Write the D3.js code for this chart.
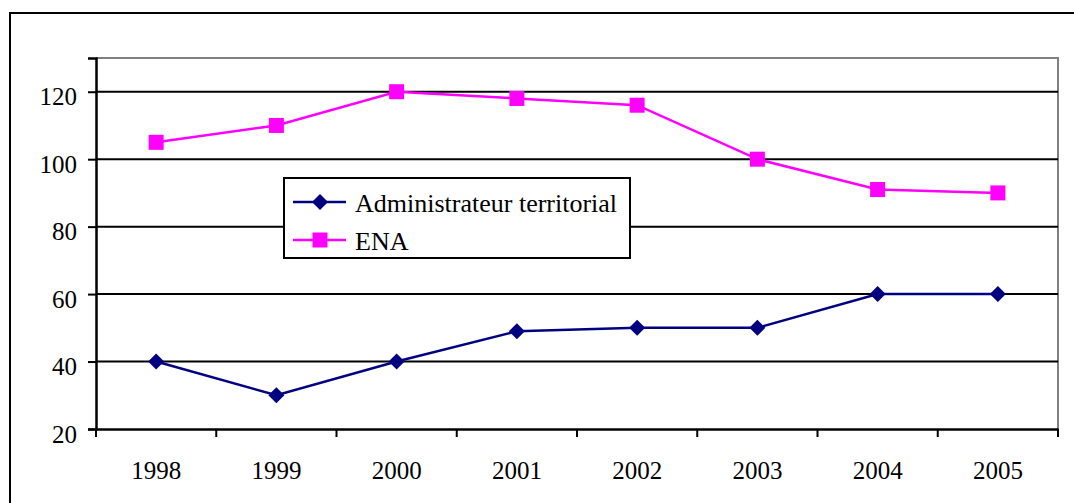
<!DOCTYPE html>
<html><head><meta charset="utf-8">
<script src="https://cdn.jsdelivr.net/npm/d3@7"></script>
<style>body{margin:0;background:#fff}svg{display:block}
text{font-family:"Liberation Serif","Times New Roman",serif}</style>
</head><body>
<svg id="c" width="1074" height="503"></svg>
<script>
const years = ["1998","1999","2000","2001","2002","2003","2004","2005"];
const adminValues = [40, 30, 40, 49, 50, 50, 60, 60];
const enaValues = [105, 110, 120, 118, 116, 100, 91, 90];
const yTicks = [20, 40, 60, 80, 100, 120];
const seriesNames = ["Administrateur territorial", "ENA"];
const seriesColors = ["#000080", "#FF00FF"];

const svg = d3.select("#c");
const font = "Liberation Serif";
const FS = 25;
const L = 96, R = 1058, T = 58, B = 429;

// outer frame
svg.append("rect").attr("x", 10).attr("y", 13).attr("width", 1080).attr("height", 520)
  .attr("fill", "none").attr("stroke", "#000").attr("stroke-width", 2);

const x = d3.scaleBand().domain(years).range([L, R]).padding(0);
const y = d3.scaleLinear().domain([20, 130]).range([B, T]);

// plot area border (gray)
svg.append("path").attr("d", `M${L},${T}H${R}V${B}`).attr("fill", "none")
  .attr("stroke", "#808080").attr("stroke-width", 2);

// gridlines
svg.append("g").selectAll("line").data(yTicks.filter(d => d > 20)).join("line")
  .attr("x1", L).attr("x2", R).attr("y1", d => y(d)).attr("y2", d => y(d))
  .attr("stroke", "#000").attr("stroke-width", 2);

// y axis
const yAxis = svg.append("g").attr("transform", `translate(${L},0)`)
  .call(d3.axisLeft(y).tickValues(yTicks).tickSize(8).tickPadding(11));
yAxis.attr("font-family", font).attr("font-size", FS);
yAxis.select(".domain").attr("stroke-width", 2.5);
yAxis.selectAll(".tick line").attr("stroke-width", 2);
yAxis.selectAll("text").style("font-family", font).style("font-size", FS + "px")
  .attr("fill", "#000").attr("y", 5);

// x axis
const xAxis = svg.append("g").attr("transform", `translate(0,${B})`)
  .call(d3.axisBottom(x).tickSize(0).tickPadding(32));
xAxis.attr("font-family", font).attr("font-size", FS);
xAxis.select(".domain").attr("stroke-width", 2.5);
xAxis.selectAll("text").style("font-family", font).style("font-size", FS + "px").attr("fill", "#000");
svg.append("g").selectAll("line").data(years.map(d => x(d)).concat([R])).join("line")
  .attr("x1", d => d).attr("x2", d => d).attr("y1", B).attr("y2", B + 8)
  .attr("stroke", "#000").attr("stroke-width", 2);

const cx = d => x(d) + x.bandwidth() / 2;
const line = d3.line().x((d, i) => cx(years[i])).y(d => y(d));

// series
const allSeries = [adminValues, enaValues];
allSeries.forEach((vals, si) => {
  svg.append("path").datum(vals).attr("d", line).attr("fill", "none")
    .attr("stroke", seriesColors[si]).attr("stroke-width", 2.5);
});
svg.append("g").selectAll("path").data(adminValues).join("path")
  .attr("transform", (d, i) => `translate(${cx(years[i])},${y(d)})`)
  .attr("d", "M0,-8L8,0L0,8L-8,0Z").attr("fill", seriesColors[0]);
svg.append("g").selectAll("rect").data(enaValues).join("rect")
  .attr("x", (d, i) => cx(years[i]) - 7.5).attr("y", d => y(d) - 7.5)
  .attr("width", 15).attr("height", 15).attr("fill", seriesColors[1]);

// legend
const lg = svg.append("g");
lg.append("rect").attr("x", 284).attr("y", 178).attr("width", 346).attr("height", 80)
  .attr("fill", "#fff").attr("stroke", "#000").attr("stroke-width", 2);
const rows = [202, 240];
seriesNames.forEach((n, i) => {
  lg.append("line").attr("x1", 293).attr("x2", 346).attr("y1", rows[i]).attr("y2", rows[i])
    .attr("stroke", seriesColors[i]).attr("stroke-width", 2.5);
  if (i === 0) {
    lg.append("path").attr("transform", `translate(320,${rows[i]})`)
      .attr("d", "M0,-8L8,0L0,8L-8,0Z").attr("fill", seriesColors[i]);
  } else {
    lg.append("rect").attr("x", 312.5).attr("y", rows[i] - 7.5).attr("width", 15).attr("height", 15)
      .attr("fill", seriesColors[i]);
  }
  lg.append("text").attr("x", 355).attr("y", rows[i] + 10).text(n)
    .style("font-family", font).style("font-size", "26px").attr("fill", "#000");
});
</script>
</body></html>
